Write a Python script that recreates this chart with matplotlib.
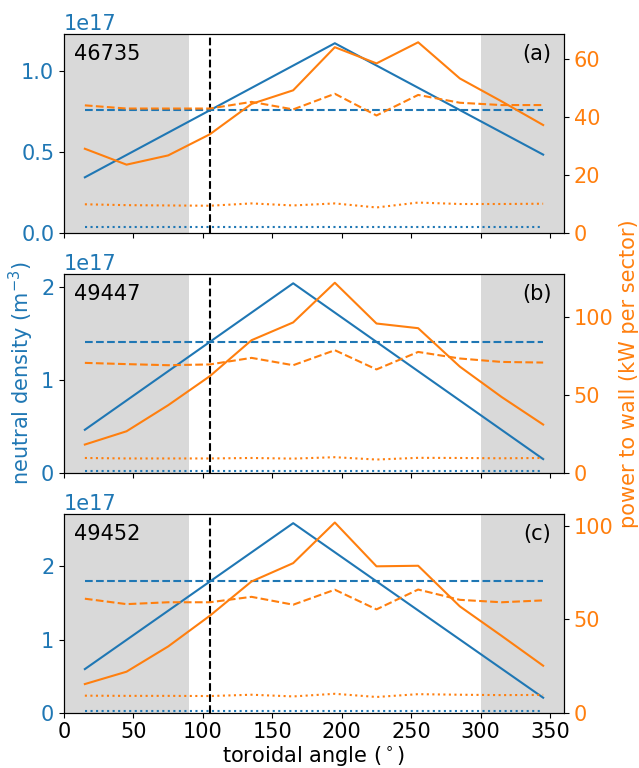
import matplotlib
matplotlib.use("Agg")
import matplotlib.pyplot as plt
from matplotlib.ticker import MultipleLocator

plt.rcParams['font.size'] = 15

angles = [15, 45, 75, 105, 135, 165, 195, 225, 255, 285, 315, 345]
shots = ["46735", "49447", "49452"]
panel_tags = ["(a)", "(b)", "(c)"]

# neutral density (m^-3), solid line vertices
dens_x = [[15, 195, 345], [15, 165, 345], [15, 165, 345]]
dens_solid = [[0.343e17, 1.170e17, 0.483e17],
              [0.464e17, 2.043e17, 0.148e17],
              [0.596e17, 2.590e17, 0.205e17]]
dens_dashed = [0.760e17, 1.413e17, 1.797e17]
dens_dotted = [0.034e17, 0.018e17, 0.027e17]

# power to wall (kW per sector)
power_solid = [
    [29.1, 23.6, 26.8, 34.1, 44.6, 49.3, 64.2, 58.6, 65.9, 53.4, 45.5, 37.3],
    [18.1, 26.6, 43.3, 61.9, 84.9, 96.3, 121.7, 95.6, 92.6, 68.0, 48.6, 30.9],
    [15.3, 21.9, 35.4, 51.8, 70.1, 79.9, 101.6, 78.2, 78.5, 56.8, 41.1, 25.1],
]
power_dashed = [
    [44.1, 43.0, 43.0, 43.0, 45.3, 42.7, 48.1, 40.6, 47.7, 45.0, 44.2, 44.2],
    [70.4, 69.6, 68.9, 69.4, 73.6, 68.9, 78.5, 66.2, 77.4, 73.2, 71.0, 70.6],
    [60.9, 58.0, 59.0, 59.0, 61.9, 57.7, 65.7, 55.2, 65.8, 60.3, 59.0, 60.0],
]
power_dotted = [
    [9.9, 9.6, 9.5, 9.4, 10.2, 9.5, 10.2, 8.8, 10.5, 10.0, 10.0, 10.1],
    [9.5, 9.2, 9.2, 9.2, 9.5, 9.1, 10.0, 8.5, 9.6, 9.5, 9.3, 9.5],
    [9.1, 9.0, 9.0, 8.9, 9.6, 8.7, 10.1, 8.4, 9.9, 9.6, 9.4, 9.5],
]

fig, axes = plt.subplots(3, 1, figsize=(6.39, 7.68), dpi=100, sharex=True)
plt.subplots_adjust(left=0.1002, right=0.8826, top=0.9557, bottom=0.072, hspace=0.206)

for i, ax in enumerate(axes):
    ax.axvspan(0, 90, color='#d9d9d9', lw=0)
    ax.axvspan(300, 360, color='#d9d9d9', lw=0)
    ax.axvline(105, color='k', ls='--', lw=1.5)

    ax.plot(dens_x[i], dens_solid[i], color='C0')
    ax.plot([angles[0], angles[-1]], [dens_dashed[i]] * 2, color='C0', ls='--')
    ax.plot([angles[0], angles[-1]], [dens_dotted[i]] * 2, color='C0', ls=':')
    ax.set_ylim(bottom=0)
    ax.tick_params(axis='y', labelcolor='C0')
    ax.yaxis.get_offset_text().set_color('C0')

    ax2 = ax.twinx()
    ax2.plot(angles, power_solid[i], color='C1')
    ax2.plot(angles, power_dashed[i], color='C1', ls='--')
    ax2.plot(angles, power_dotted[i], color='C1', ls=':')
    ax2.set_ylim(bottom=0)
    ax2.tick_params(axis='y', labelcolor='C1')

    ax.text(0.02, 0.9, shots[i], transform=ax.transAxes, va='center', ha='left')
    ax.text(0.975, 0.9, panel_tags[i], transform=ax.transAxes, va='center', ha='right')

    if i == 1:
        ax.set_ylabel("neutral density (m$^{-3}$)", color='C0')
        ax2.set_ylabel("power to wall (kW per sector)", color='C1')

axes[0].set_xlim(0, 360)
axes[0].xaxis.set_major_locator(MultipleLocator(50))
axes[-1].set_xlabel("toroidal angle ($^\\circ$)", labelpad=1)

plt.savefig("out.png")
